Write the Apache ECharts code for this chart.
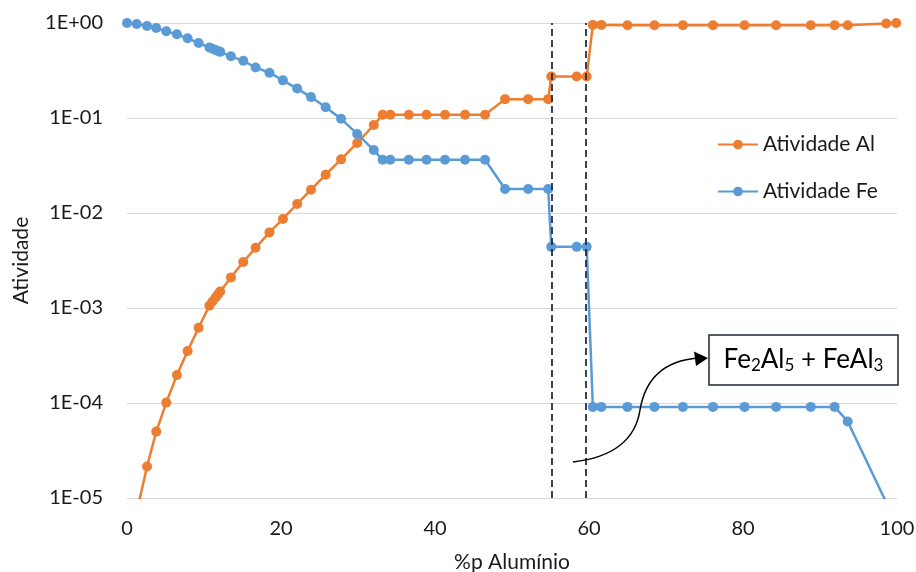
<!DOCTYPE html>
<html>
<head>
<meta charset="utf-8">
<script src="https://cdn.jsdelivr.net/npm/echarts@6/dist/echarts.min.js"></script>
<style>
  html, body { margin: 0; padding: 0; background: #fff; }
  #chart { width: 916px; height: 572px; }
</style>
</head>
<body>
<div id="chart"></div>
<script>
// Composition (wt% Al) at which the activities were computed
const aluminio = [0, 1.26, 2.6, 3.8, 5.1, 6.48, 7.87, 9.3, 10.7, 11.1, 11.5, 11.8, 12.1, 13.5,
  15.1, 16.7, 18.5, 20.25, 22.1, 23.9, 25.8, 27.8, 29.9, 32.05, 33.2, 34.2, 36.6, 38.9, 41.3,
  43.9, 46.5, 49.1, 52.1, 54.7, 55.1, 58.4, 59.7, 60.5, 61.6, 65.0, 68.5, 72.2, 76.1, 80.2,
  84.3, 88.8, 91.9, 93.6, 98.6, 99.9];

// Aluminium activity
const atividadeAl = [null, 7.1e-6, 2.15e-5, 5.0e-5, 1.01e-4, 1.97e-4, 3.52e-4, 6.2e-4, 1.06e-3,
  1.17e-3, 1.29e-3, 1.39e-3, 1.49e-3, 2.1e-3, 3.05e-3, 4.3e-3, 6.25e-3, 8.65e-3, 0.01245,
  0.0176, 0.0253, 0.0367, 0.0546, 0.0844, 0.108, 0.108, 0.108, 0.108, 0.108, 0.108, 0.108,
  0.158, 0.158, 0.158, 0.274, 0.274, 0.274, 0.955, 0.955, 0.945, 0.945, 0.945, 0.945, 0.945,
  0.945, 0.945, 0.945, 0.945, 0.99, 1.0];

// Iron activity
const atividadeFe = [1.0, 0.976, 0.93, 0.885, 0.817, 0.76, 0.69, 0.616, 0.553, 0.536, 0.52,
  0.508, 0.497, 0.446, 0.40, 0.34, 0.30, 0.249, 0.204, 0.166, 0.13, 0.098, 0.068, 0.046,
  0.0363, 0.0363, 0.0363, 0.0363, 0.0363, 0.0363, 0.0363, 0.0179, 0.0179, 0.0179, 0.0044,
  0.0044, 0.0044, 9.1e-5, 9.1e-5, 9.1e-5, 9.1e-5, 9.1e-5, 9.1e-5, 9.1e-5, 9.1e-5, 9.1e-5,
  9.1e-5, 6.4e-5, 9.0e-6, 4.0e-6];

// Phase boundaries (dashed verticals)
const limitesFase = [55.2, 59.6];

const seriesNames = ['Atividade Al', 'Atividade Fe'];
const xTicks = { min: 0, max: 100, interval: 20 };
const yTicks = { min: 1e-5, max: 1 };

const FONT = 'Lato';
const TEXT = '#1a1a1a';

function pairs(values) {
  return aluminio.map((x, i) => [x, values[i]]);
}

function sciLabel(v) {
  const e = Math.round(Math.log10(v));
  const sign = e < 0 ? '-' : '+';
  const a = Math.abs(e);
  return '1E' + sign + (a < 10 ? '0' + a : a);
}

const chart = echarts.init(document.getElementById('chart'), null, { renderer: 'canvas' });

const lineSeries = (name, values, color, extra) => Object.assign({
  name: name,
  type: 'line',
  data: pairs(values),
  symbol: 'circle',
  symbolSize: 10,
  showAllSymbol: true,
  itemStyle: { color: color },
  lineStyle: { color: color, width: 2.5 },
  emphasis: { disabled: true },
  animation: false
}, extra || {});

chart.setOption({
  backgroundColor: '#ffffff',
  textStyle: { fontFamily: FONT },
  grid: { left: 127, right: 19, top: 23, bottom: 74, containLabel: false, outerBoundsMode: 'none' },
  legend: {
    data: seriesNames,
    orient: 'vertical',
    left: 712,
    top: 129,
    itemWidth: 40,
    itemHeight: 12,
    itemGap: 26,
    textStyle: { fontFamily: FONT, fontSize: 21, color: TEXT }
  },
  xAxis: {
    type: 'value',
    min: xTicks.min,
    max: xTicks.max,
    interval: xTicks.interval,
    name: '%p Alumínio',
    nameLocation: 'middle',
    nameGap: 54,
    nameTextStyle: { fontFamily: FONT, fontSize: 21, color: TEXT },
    axisLine: { show: false },
    axisTick: { show: false },
    splitLine: { show: false },
    axisLabel: { fontFamily: FONT, fontSize: 20, color: TEXT, margin: 21 }
  },
  yAxis: {
    type: 'log',
    logBase: 10,
    min: yTicks.min,
    max: yTicks.max,
    name: 'Atividade',
    nameLocation: 'middle',
    nameGap: 95,
    nameRotate: 90,
    nameTextStyle: { fontFamily: FONT, fontSize: 21, color: TEXT },
    axisLine: { show: false },
    axisTick: { show: false },
    splitLine: { show: true, lineStyle: { color: '#d9d9d9', width: 1.2 } },
    axisLabel: { fontFamily: FONT, fontSize: 20, color: TEXT, margin: 24, formatter: sciLabel }
  },
  series: [
    lineSeries(seriesNames[0], atividadeAl, '#ED7D31', {
      markLine: {
        silent: true,
        symbol: ['none', 'none'],
        label: { show: false },
        lineStyle: { color: '#223042', type: [7, 4], width: 1.8 },
        data: limitesFase.map(v => ({ xAxis: v }))
      }
    }),
    lineSeries(seriesNames[1], atividadeFe, '#5B9BD5')
  ],
  graphic: [
    // curved pointer towards the phase label
    {
      type: 'bezierCurve',
      z: 10,
      shape: { x1: 573, y1: 462, cpx1: 633, cpy1: 455, x2: 640, y2: 410 },
      style: { fill: null, stroke: '#000', lineWidth: 1.5 }
    },
    {
      type: 'bezierCurve',
      z: 10,
      shape: { x1: 640, y1: 410, cpx1: 648, cpy1: 362, x2: 698, y2: 358 },
      style: { fill: null, stroke: '#000', lineWidth: 1.5 }
    },
    {
      type: 'polygon',
      z: 10,
      shape: { points: [[708, 358], [694, 351.5], [696, 366]] },
      style: { fill: '#000' }
    },
    // phase label box
    {
      type: 'rect',
      z: 10,
      shape: { x: 709, y: 335, width: 189, height: 50 },
      style: { fill: '#fff', stroke: '#1b2838', lineWidth: 1.5 }
    },
    {
      type: 'text',
      z: 11,
      x: 803.5,
      y: 360,
      style: {
        text: 'Fe{s|2}Al{s|5} + FeAl{s|3}',
        align: 'center',
        verticalAlign: 'middle',
        font: '26px ' + FONT,
        fill: '#000',
        rich: {
          s: { fontSize: 17, fontFamily: FONT, fill: '#000', padding: [12, 0, 0, 0] }
        }
      }
    }
  ]
});
</script>
</body>
</html>
